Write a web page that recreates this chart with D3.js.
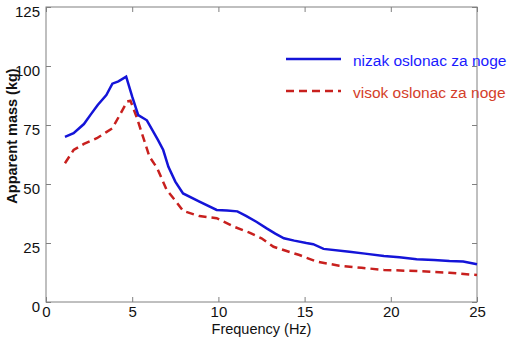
<!DOCTYPE html>
<html>
<head>
<meta charset="utf-8">
<script src="https://cdn.jsdelivr.net/npm/d3@7"></script>
<style>
  body { margin: 0; background: #fff; }
  svg { font-family: "Liberation Sans", Arial, sans-serif; }
</style>
</head>
<body>
<div id="chart"></div>
<script>
// values
const freqLow = [1.1, 1.6, 2.2, 2.6, 3.0, 3.5, 3.85, 4.2, 4.65, 5.0, 5.35, 5.85, 6.5, 6.8, 7.1, 7.5, 7.95, 8.9, 9.9, 10.5, 11.1, 11.6, 12.2, 12.8, 13.3, 13.8, 14.4, 15.1, 15.5, 16.1, 17.6, 18.5, 19.6, 20.5, 21.5, 22.5, 23.4, 24.2, 25];
const massLow = [70, 71.5, 75.4, 79.5, 83.5, 87.7, 92.5, 93.5, 95.5, 87, 79.2, 77, 68.6, 64.4, 57.3, 51, 46, 42.5, 39, 38.8, 38.4, 36.5, 34, 31.2, 29, 27, 26, 25, 24.5, 22.5, 21.3, 20.5, 19.5, 19, 18.1, 17.8, 17.4, 17.2, 16];

const freqHigh = [1.1, 1.6, 2.2, 2.95, 3.5, 3.85, 4.3, 4.7, 4.9, 5.25, 6.0, 6.45, 7.0, 7.5, 7.95, 8.9, 9.9, 10.9, 11.8, 12.5, 13.2, 14.0, 14.7, 15.7, 17.0, 18.3, 19.6, 21.5, 23.4, 25];
const massHigh = [58.8, 64.4, 67, 69.4, 72, 73.6, 79.5, 84.9, 85.3, 78.5, 61.6, 56.7, 47.5, 43, 38.6, 36.4, 35.5, 31.9, 29.4, 27, 23.4, 21.5, 19.9, 17.1, 15.4, 14.5, 13.6, 13.1, 12.4, 11.4];

const xTicks = [0, 5, 10, 15, 20, 25];
const yTicks = [0, 25, 50, 75, 100, 125];

const seriesNames = ['nizak oslonac za noge', 'visok oslonac za noge'];

const width = 510;
const height = 344;
const margin = { top: 7, right: 33, bottom: 42, left: 46 };
const plotW = width - margin.left - margin.right;
const plotH = height - margin.top - margin.bottom;

const svg = d3.select('#chart').append('svg')
  .attr('width', width)
  .attr('height', height);

const x = d3.scaleLinear().domain([0, 25]).range([0, plotW]);
const y = d3.scaleLinear().domain([0, 125]).range([plotH, 0]);

const g = svg.append('g')
  .attr('transform', `translate(${margin.left},${margin.top})`);

const axisColor = '#808080';

function styleAxis(sel, hideText) {
  sel.select('.domain').remove();
  sel.selectAll('.tick line').attr('stroke', axisColor);
  sel.selectAll('.tick text')
    .attr('fill', '#111')
    .style('font-size', '15px');
  if (hideText) sel.selectAll('.tick text').remove();
}

// bottom + top
g.append('g')
  .attr('transform', `translate(0,${plotH})`)
  .call(d3.axisBottom(x).tickValues(xTicks).tickSize(-5).tickPadding(4))
  .call(s => styleAxis(s, false));
g.append('g')
  .call(d3.axisTop(x).tickValues(xTicks).tickSize(-5))
  .call(s => styleAxis(s, true));

// left + right
g.append('g')
  .call(d3.axisLeft(y).tickValues(yTicks).tickSize(-5).tickPadding(6))
  .call(s => styleAxis(s, false))
  .selectAll('.tick text').attr('dy', '0.62em');
g.append('g')
  .attr('transform', `translate(${plotW},0)`)
  .call(d3.axisRight(y).tickValues(yTicks).tickSize(-5))
  .call(s => styleAxis(s, true));

g.append('rect')
  .attr('width', plotW)
  .attr('height', plotH)
  .attr('fill', 'none')
  .attr('stroke', axisColor)
  .attr('stroke-width', 1);

const line = d3.line()
  .x(d => x(d[0]))
  .y(d => y(d[1]));

const lowData = d3.zip(freqLow, massLow);
const highData = d3.zip(freqHigh, massHigh);

g.append('path')
  .datum(highData)
  .attr('fill', 'none')
  .attr('stroke', '#c8201e')
  .attr('stroke-width', 2.5)
  .attr('stroke-dasharray', '8,5')
  .attr('d', line);

g.append('path')
  .datum(lowData)
  .attr('fill', 'none')
  .attr('stroke', '#1414d8')
  .attr('stroke-width', 2.5)
  .attr('d', line);

// legend
const legend = svg.append('g');
legend.append('line')
  .attr('x1', 286).attr('x2', 341).attr('y1', 59).attr('y2', 59)
  .attr('stroke', '#1414d8').attr('stroke-width', 2.5);
legend.append('text')
  .attr('x', 353).attr('y', 66)
  .attr('fill', '#1a1aff')
  .style('font-size', '15.5px')
  .text(seriesNames[0]);
legend.append('line')
  .attr('x1', 286).attr('x2', 341).attr('y1', 91).attr('y2', 91)
  .attr('stroke', '#c8201e').attr('stroke-width', 2.5)
  .attr('stroke-dasharray', '8,5');
legend.append('text')
  .attr('x', 353).attr('y', 97.5)
  .attr('fill', '#d4402a')
  .style('font-size', '15.5px')
  .text(seriesNames[1]);

// axis titles
svg.append('text')
  .attr('x', margin.left + plotW / 2)
  .attr('y', 334)
  .attr('text-anchor', 'middle')
  .attr('fill', '#111')
  .style('font-size', '14.5px')
  .text('Frequency (Hz)');

svg.append('text')
  .attr('transform', `translate(17,136) rotate(-90)`)
  .attr('text-anchor', 'middle')
  .attr('fill', '#111')
  .style('font-size', '14.5px')
  .style('font-weight', 'bold')
  .text('Apparent mass (kg)');
</script>
</body>
</html>
